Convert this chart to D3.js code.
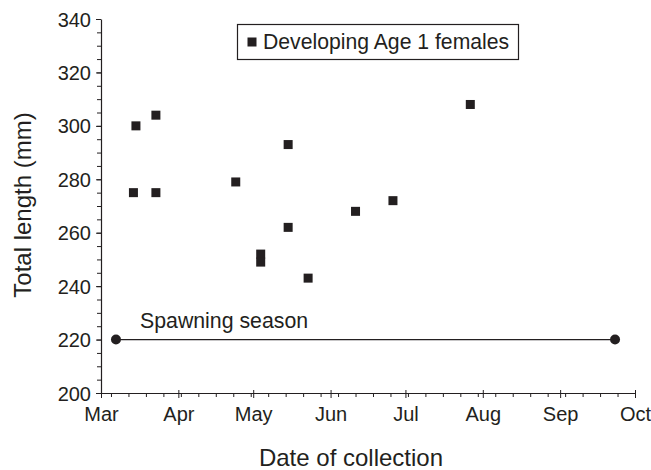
<!DOCTYPE html>
<html><head><meta charset="utf-8">
<script src="https://cdn.jsdelivr.net/npm/d3@7"></script>
<style>
html,body{margin:0;padding:0;background:#fff;}
text{font-family:"Liberation Sans",Arial,Helvetica,sans-serif;fill:#231f20;}
</style></head>
<body>
<svg id="chart" width="651" height="470"></svg>
<script>
// ---- data ----
const dates = ["2010-03-14","2010-03-15","2010-03-23","2010-03-23","2010-04-24","2010-05-04","2010-05-04","2010-05-15","2010-05-15","2010-05-23","2010-06-11","2010-06-26","2010-07-27"];
const lengths = [275,300,304,275,279,252,249,293,262,243,268,272,308];
const seriesName = "Developing Age 1 females";
const spawnDates = ["2010-03-07","2010-09-23"];
const spawnLength = 220;
const spawnLabel = "Spawning season";
const yTicks = [200,220,240,260,280,300,320,340];
const xLabel = "Date of collection";
const yLabel = "Total length (mm)";

const parse = d3.timeParse("%Y-%m-%d");
const ink = "#231f20";
const svg = d3.select("#chart");

const x = d3.scaleTime().domain([parse("2010-03-01"), parse("2010-10-01")]).range([101, 635]);
const y = d3.scaleLinear().domain([200, 340]).range([393, 19]);

// y axis minor
svg.append("g").attr("transform","translate(101,0)")
  .call(d3.axisLeft(y).tickValues(d3.range(200,341,5)).tickSize(4).tickFormat(""))
  .call(g=>{g.select(".domain").remove(); g.selectAll("line").attr("stroke",ink);});
// y axis major
svg.append("g").attr("transform","translate(101,0)")
  .call(d3.axisLeft(y).tickValues(yTicks).tickSize(5).tickSizeOuter(0).tickPadding(5))
  .call(g=>{g.select(".domain").attr("stroke",ink).attr("stroke-width",1.2);
    g.selectAll("line").attr("stroke",ink);
    g.selectAll("text").attr("font-size",20).attr("fill",ink).attr("dy","0.35em");});

// x axis minor (weekly)
svg.append("g").attr("transform","translate(0,393)")
  .call(d3.axisBottom(x).tickValues(d3.timeFriday.range(parse("2010-03-01"), parse("2010-10-01"))).tickSize(4).tickFormat(""))
  .call(g=>{g.select(".domain").remove(); g.selectAll("line").attr("stroke",ink);});
// x axis major (months)
svg.append("g").attr("transform","translate(0,393)")
  .call(d3.axisBottom(x).ticks(d3.timeMonth.every(1)).tickFormat(d3.timeFormat("%b")).tickSize(5).tickSizeOuter(0).tickPadding(9))
  .call(g=>{g.select(".domain").attr("stroke",ink).attr("stroke-width",1.2);
    g.selectAll("line").attr("stroke",ink).attr("y1",-3);
    g.selectAll("text").attr("font-size",20).attr("fill",ink);});

// spawning season
const sp = spawnDates.map(parse);
svg.append("line").attr("x1",x(sp[0])).attr("x2",x(sp[1]))
  .attr("y1",y(spawnLength)).attr("y2",y(spawnLength)).attr("stroke",ink).attr("stroke-width",1.2);
svg.selectAll("circle.sp").data(sp).join("circle").attr("class","sp")
  .attr("cx",d=>x(d)).attr("cy",y(spawnLength)).attr("r",5).attr("fill",ink);
svg.append("text").attr("x",140).attr("y",y(spawnLength)-12).attr("font-size",21.3).text(spawnLabel);

// points
const pts = dates.map((d,i)=>({date:parse(d), v:lengths[i]}));
svg.selectAll("rect.pt").data(pts).join("rect").attr("class","pt")
  .attr("x",d=>x(d.date)-4.5).attr("y",d=>y(d.v)-4.5).attr("width",9).attr("height",9).attr("fill",ink);

// legend
const lg = svg.append("g");
lg.append("rect").attr("x",237.5).attr("y",24.5).attr("width",281).attr("height",35).attr("fill","#fff").attr("stroke",ink).attr("stroke-width",1.2);
lg.append("rect").attr("x",247.5).attr("y",37.5).attr("width",9).attr("height",9).attr("fill",ink);
lg.append("text").attr("x",263).attr("y",49).attr("font-size",21.2).text(seriesName);

// axis titles
svg.append("text").attr("x",351).attr("y",466).attr("text-anchor","middle").attr("font-size",24).text(xLabel);
svg.append("text").attr("transform","translate(31,205) rotate(-90)").attr("text-anchor","middle").attr("font-size",24).text(yLabel);
</script>
</body></html>
